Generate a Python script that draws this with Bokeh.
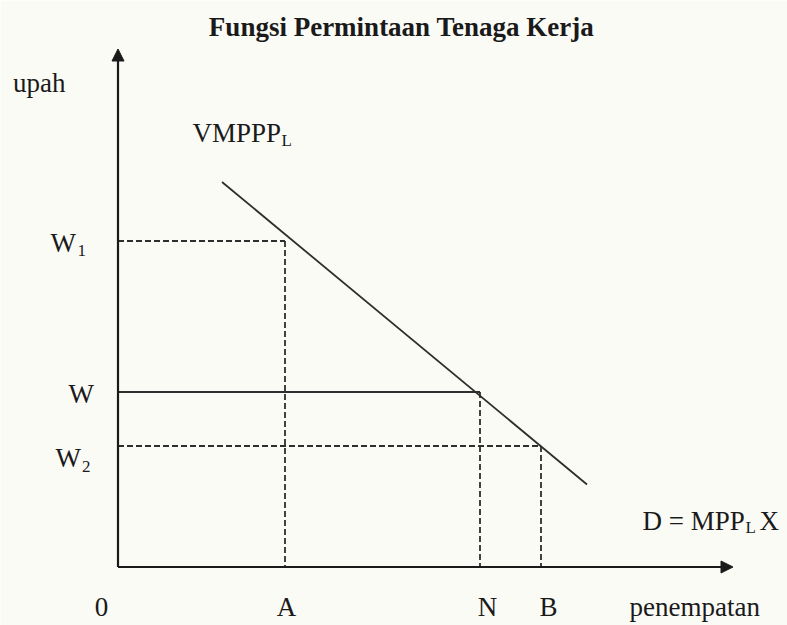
from bokeh.plotting import figure
from bokeh.models import Arrow, NormalHead, Range1d
from bokeh.core.properties import value
from bokeh.embed import file_html
from bokeh.resources import INLINE

# ---- data (x: penempatan / employment, y: upah / wage) ----
labor_labels = ["A", "N", "B"]
labor_values = [16.7, 36.2, 42.3]
wage_labels = ["W1", "W", "W2"]
wage_values = [32.6, 17.5, 12.1]
demand_x = [10.4, 46.9]
demand_y = [38.5, 8.25]
axis_x_end = 61.5
axis_y_end = 51.8

A, N, B = labor_values
W1, W, W2 = wage_values

FONT = value("Liberation Serif")
INK = "#1a1a1a"
LINE = "#2e2e2e"

p = figure(width=787, height=625, output_backend="svg", toolbar_location=None,
           x_range=Range1d(-11.75, 66.95), y_range=Range1d(-5.85, 56.65),
           min_border=0, background_fill_color="#FBFBF6", border_fill_color="#FBFBF6")
p.axis.visible = False
p.grid.visible = False
p.outline_line_color = None

# axes with arrow heads
p.add_layout(Arrow(end=NormalHead(size=12, fill_color=INK, line_color=INK),
                   x_start=0, y_start=0, x_end=0, y_end=axis_y_end,
                   line_width=2.2, line_color=INK))
p.add_layout(Arrow(end=NormalHead(size=12, fill_color=INK, line_color=INK),
                   x_start=0, y_start=0, x_end=axis_x_end, y_end=0,
                   line_width=2.2, line_color=INK))

# demand curve VMPPP_L
p.line(demand_x, demand_y, line_width=1.8, line_color=LINE)

# W (solid) line
p.segment(x0=[0], y0=[W], x1=[N], y1=[W], line_width=1.8, line_color=LINE)

# dashed guides
p.segment(x0=[0, 0], y0=[W1, W2], x1=[A, B], y1=[W1, W2],
          line_width=1.8, line_color=LINE, line_dash="6 3")
p.segment(x0=[A, N, B], y0=[W1, W, W2], x1=[A, N, B], y1=[0, 0, 0],
          line_width=1.8, line_color=LINE, line_dash="6 3")

def txt(x, y, s, size, align="left", baseline="middle", style="normal"):
    p.text(x=[x], y=[y], text=[s], text_font=FONT, text_font_size=f"{size}px",
           text_align=align, text_baseline=baseline, text_color=INK,
           text_font_style=style)

# title
txt(28.35, 54.05, "Fungsi Permintaan Tenaga Kerja", 27, align="center", style="bold")

# axis names
txt(-10.5, 48.4, "upah", 27)
txt(51.15, -3.95, "penempatan", 27)

# curve labels
txt(7.45, 43.4, "VMPPP", 27)
txt(16.35, 42.65, "L", 17)
txt(52.45, 4.65, "D = MPP", 27)
txt(62.75, 4.0, "L", 17)
txt(64.15, 4.65, "X", 27)

# wage labels
txt(-6.75, W1 - 0.2, "W", 27)
txt(-4.05, W1 - 0.95, "1", 17)
txt(-4.95, W - 0.15, "W", 27)
txt(-6.25, W2 - 1.15, "W", 27)
txt(-3.6, W2 - 2.05, "2", 17)

# employment labels
txt(-1.65, -3.95, "0", 27, align="center")
txt(A + 0.15, -3.95, labor_labels[0], 27, align="center")
txt(N + 0.75, -3.95, labor_labels[1], 27, align="center")
txt(B + 0.75, -3.95, labor_labels[2], 27, align="center")

open("out.html", "w").write(file_html(p, INLINE))
